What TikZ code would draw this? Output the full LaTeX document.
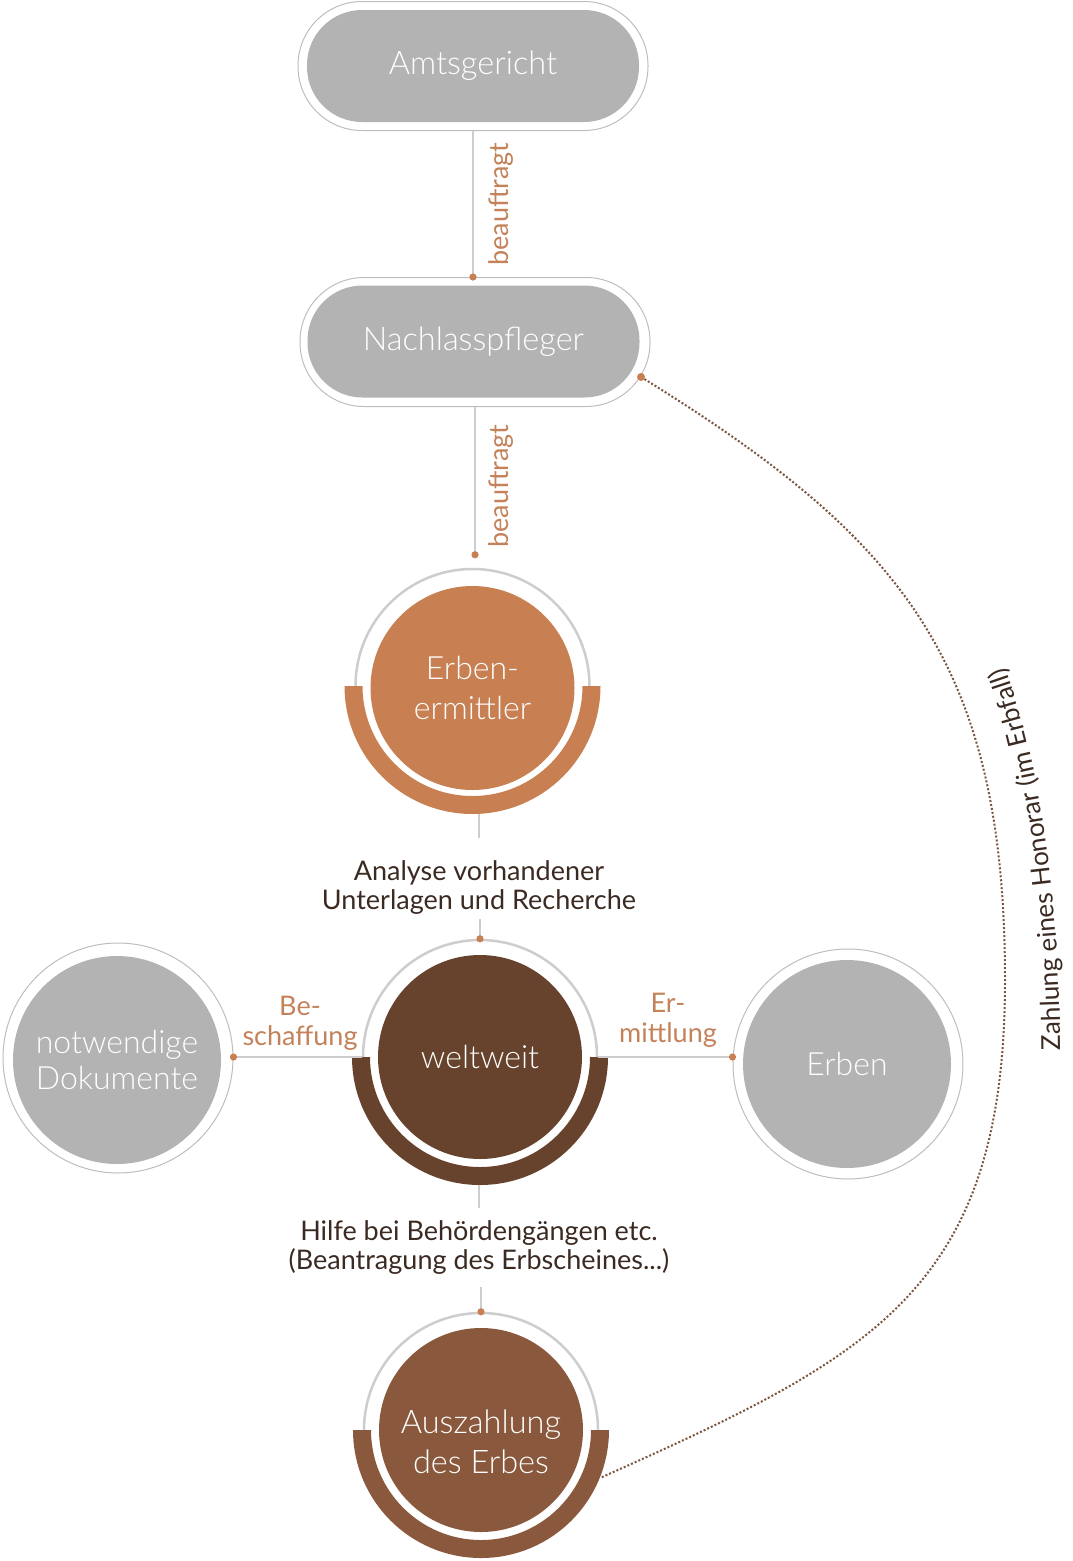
\documentclass[tikz,border=0pt]{standalone}
\usepackage{fontspec}
\setmainfont{Lato}
\newfontfamily\thinfont{Lato Light}
\usetikzlibrary{calc}
\usetikzlibrary{arrows.meta}
\usetikzlibrary{decorations.text}

\definecolor{nodeGray}{HTML}{B3B3B3}
\definecolor{lineGray}{HTML}{CDCDCD}
\definecolor{rimGray}{HTML}{BDBDBD}
\definecolor{brOrange}{HTML}{C88053}
\definecolor{brDark}{HTML}{67432D}
\definecolor{brMid}{HTML}{8A593D}
\definecolor{txtOrange}{HTML}{C4825A}
\definecolor{txtDark}{HTML}{3B2A22}
\definecolor{dotBrown}{HTML}{7B5540}

\newcommand\honfont{\fontsize{26}{26}\selectfont\color{txtDark}}

\begin{document}
\begin{tikzpicture}[
            x=1pt, y=-1pt,
            pillout/.style={draw=rimGray, line width=1pt, rounded corners=64pt,
                minimum width=350pt, minimum height=129pt},
            pill/.style={fill=nodeGray, rounded corners=55pt, text=white,
                minimum width=332pt, minimum height=112pt,
                font=\thinfont\fontsize{32.5}{38}\selectfont},
            ring/.style={circle, draw=lineGray, line width=2.5pt, minimum size=234pt},
            disc/.style={circle, fill=#1, text=white, inner sep=0pt, align=center,
                minimum size=204pt, font=\thinfont\fontsize{32}{40}\selectfont},
            disctext/.style={text=white, align=center, inner sep=0pt,
                font=\thinfont\fontsize{32.5}{40}\selectfont},
            grayout/.style={circle, draw=rimGray, line width=1pt, minimum size=230pt},
            graydisc/.style={circle, fill=nodeGray, text=white, inner sep=0pt, align=center,
                minimum size=208pt, font=\thinfont\fontsize{32}{36}\selectfont},
            lbl/.style={text=txtOrange, align=center, inner sep=0pt,
                font=\fontsize{27}{30}\selectfont},
            desc/.style={text=txtDark, align=center, inner xsep=0pt, inner ysep=4pt,
                font=\fontsize{27}{29}\selectfont},
            conn/.style={draw=lineGray, line width=2.5pt},
            dotend/.style={-{Circle[length=7pt, color=brOrange]}, shorten >=-3.5pt},
            honor/.style={draw=dotBrown, line width=2pt, dash pattern=on 2pt off 2pt}
        ]
            % Rahmen
            \useasboundingbox (0,0) rectangle (1072,1561);

            % Amtsgericht und Nachlasspfleger
            \node[pillout] (amtO) at (473,66) {};
            \node[pill] (amt) at (473,66) {Amtsgericht};
            \node[pillout] (nachO) at (475,342) {};
            \node[pill] (nach) at (473.5,341.5) {Nachlasspfleger};

            % Kreise in der Mitte
            \node[ring] (ermR) at (472.5,686) {};
            \node[disc=brOrange] (erm) at (472.5,688) {Erben-\\ermittler};
            \node[ring] (weltR) at (480,1057) {};
            \node[disc=brDark] (welt) at (480,1057) {weltweit};
            \node[ring] (auszR) at (481,1430) {};
            \node[disc=brMid, label={[disctext, yshift=-12pt]center:{Auszahlung\\des Erbes}}]
                (ausz) at (481,1430) {};

            % graue Kreise links und rechts
            \node[grayout] (dokO) at (118,1058) {};
            \node[graydisc] (dok) at (117,1060) {notwendige\\Dokumente};
            \node[grayout] (erbO) at (848,1064) {};
            \node[graydisc] (erb) at (847,1064) {Erben};

            % Halbringe unten
            \foreach \c/\col in {ermR/brOrange, weltR/brDark, auszR/brMid}{
                \begin{scope}
                    \clip ($(\c)+(-135,0)$) rectangle ($(\c)+(135,135)$);
                    \draw[\col, line width=18pt] (\c) circle[radius=119];
                \end{scope}
            }
            \coordinate (ermB) at ($(ermR)+(0,128)$);
            \coordinate (weltB) at ($(weltR)+(0,128)$);
            \coordinate (ermTop) at ($(ermR.north)+(0,-13)$);

            % Beschriftungen
            \node[lbl, rotate=90] (bf1) at (501,204) {beauftragt};
            \node[lbl, rotate=90] (bf2) at (501,486) {beauftragt};
            \node[desc] (ana) at (479,888) {Analyse vorhandener\\Unterlagen und Recherche};
            \node[desc] (hilf) at (479,1248) {Hilfe bei Behördengängen etc.\\(Beantragung des Erbscheines...)};
            \node[lbl] (besch) at (300,1023) {Be-\\schaffung};
            \node[lbl] (ermit) at (668,1020) {Er-\\mittlung};

            % Verbindungen
            \draw[conn, dotend] (amtO.south) -- (amtO.south |- nachO.north);
            \draw[conn, dotend] (nachO.south) -- (nachO.south |- ermTop);
            \draw[conn, shorten >=19pt] (ana.north |- ermB) -- (ana.north);
            \draw[conn, dotend] (weltR.north |- ana.south) -- (weltR.north);
            \draw[conn, shorten >=9pt] (hilf.north |- weltB) -- (hilf.north);
            \draw[conn, dotend, shorten <=8pt] (auszR.north |- hilf.south) -- (auszR.north);
            \draw[conn, dotend] (weltR.west) -- (weltR.west -| dokO.east);
            \draw[conn, dotend] (weltR.east) -- (weltR.east -| erbO.west);

            % Honorar
            \coordinate (honA) at (641,377);
            \coordinate (honB) at ($(auszR)+(119,48)$);
            \draw[honor] (honA) .. controls (900,537) and (1005,660) .. (1005,980)
                .. controls (1005,1290) and (873,1356) .. (honB);
            \fill[brOrange] (honA) circle[radius=4];
            \path[decorate, decoration={text along path, text align=center,
                text={|\honfont|Zahlung eines Honorar (im Erbfall)}}]
                (1060,1110) .. controls (1064,930) and (1045,740) .. (982,612);

        \end{tikzpicture}
\end{document}
